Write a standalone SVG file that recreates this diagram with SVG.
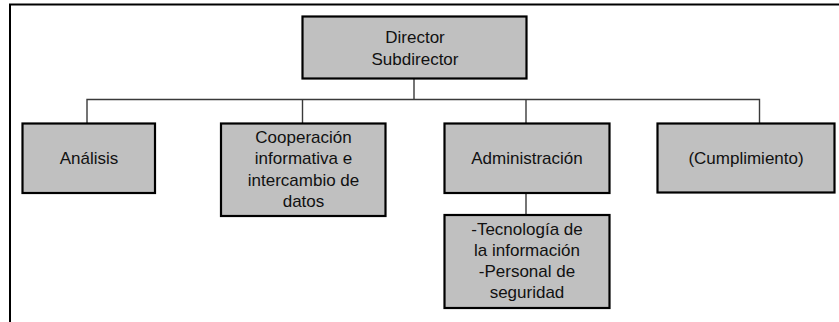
<svg xmlns="http://www.w3.org/2000/svg" width="839" height="322" viewBox="0 0 839 322">
<style>
.box{fill:#c0c0c0;stroke:#000;stroke-width:2.2}
.t{font-family:"Liberation Sans",Arial,sans-serif;font-size:17px;fill:#111;text-anchor:middle}
.c{fill:none;stroke:#3a3a3a;stroke-width:1.4}
.f{fill:none;stroke:#000;stroke-width:2}
</style>
<rect width="839" height="322" fill="#fff"/>
<path class="f" d="M10,322 V4.5 H839"/>
<g id="connectors">
<path class="c" d="M414,79 V99.5"/>
<path class="c" d="M87,123 V99.5 H759.5 V123"/>
<path class="c" d="M302.5,99.5 V123"/>
<path class="c" d="M526,99.5 V123"/>
<path class="c" d="M526,193 V215"/>
</g>
<g id="director">
<rect class="box" x="302.5" y="16.5" width="224" height="62"/>
<text class="t" x="415" y="42.5">Director</text>
<text class="t" x="415" y="64.5">Subdirector</text>
</g>
<g id="analisis">
<rect class="box" x="22.5" y="123.5" width="132.5" height="69.5"/>
<text class="t" x="89" y="163.5">Análisis</text>
</g>
<g id="cooperacion">
<rect class="box" x="221" y="123.5" width="164.5" height="92.5"/>
<text class="t" x="303.5" y="142.5">Cooperación</text>
<text class="t" x="303.5" y="164">informativa e</text>
<text class="t" x="303.5" y="185.5">intercambio de</text>
<text class="t" x="303.5" y="206.5">datos</text>
</g>
<g id="administracion">
<rect class="box" x="444.5" y="123.5" width="165" height="69.5"/>
<text class="t" x="527" y="163.5">Administración</text>
</g>
<g id="cumplimiento">
<rect class="box" x="657.5" y="123.5" width="177" height="69"/>
<text class="t" x="746" y="163.5">(Cumplimiento)</text>
</g>
<g id="tecnologia">
<rect class="box" x="444.5" y="215" width="165" height="93"/>
<text class="t" x="527" y="235">-Tecnología de</text>
<text class="t" x="527" y="256">la información</text>
<text class="t" x="527" y="277">-Personal de</text>
<text class="t" x="527" y="298">seguridad</text>
</g>
</svg>
